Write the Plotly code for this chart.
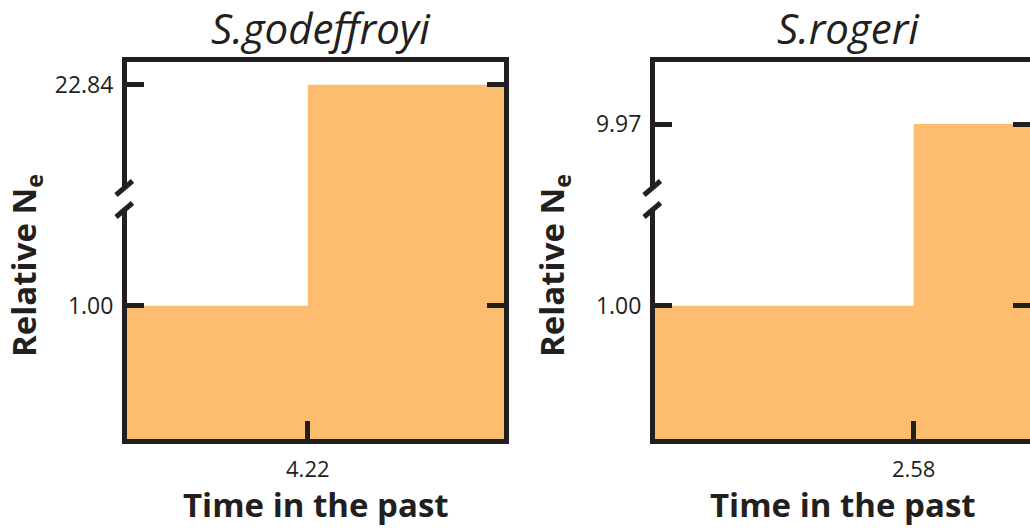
import plotly.graph_objects as go

# Two-epoch effective population size histories (relative to present Ne)
species = ["S.godeffroyi", "S.rogeri"]
change_time = [4.22, 2.58]          # time of the size change
ne_recent = [1.00, 1.00]            # relative Ne after the change (present)
ne_ancient = [22.84, 9.97]          # relative Ne before the change (past)

# axis extents for each panel
time_max = [8.8, 3.74]
lower_range = [0.0, 1.8]
upper_range = [[18.0, 23.8], [8.0, 11.6]]

W, H = 1030, 529
INK = "#231f20"
FILL = "#fcbe6e"
FONT = "Open Sans"
LW = 5


def fx(p):
    return p / W


def fy(p):
    return 1 - p / H


# pixel frame of each panel's plot area
panel_left = [127, 655]
panel_right = [504, 1030]
top_px, split_px, bottom_px = 62, 199, 439

fig = go.Figure()
layout = dict(
    width=W, height=H,
    margin=dict(l=0, r=0, t=0, b=0, autoexpand=False),
    paper_bgcolor="white", plot_bgcolor="white", showlegend=False,
    font=dict(family=FONT, color=INK),
)
shapes, annotations = [], []

for i in range(2):
    xl, xu = 2 * i + 1, 2 * i + 2
    xdom = [fx(panel_left[i]), fx(panel_right[i])]
    xs = [0, change_time[i], time_max[i]]
    ys = [ne_recent[i], ne_ancient[i], ne_ancient[i]]
    for k in (xl, xu):
        fig.add_trace(go.Scatter(
            x=xs, y=ys, mode="lines", line=dict(shape="hv", width=0, color=FILL),
            fill="tozeroy", fillcolor=FILL, hoverinfo="skip",
            xaxis=f"x{k}", yaxis=f"y{k}",
        ))

    common_y = dict(
        showline=True, linecolor=INK, linewidth=LW, mirror="ticks",
        ticks="inside", ticklen=17, tickwidth=LW, tickcolor=INK,
        showgrid=False, zeroline=False, fixedrange=True,
        tickfont=dict(size=23, color=INK, family=FONT), ticklabelstandoff=4,
    )
    # lower segment of the broken y axis
    layout[f"xaxis{xl}"] = dict(
        domain=xdom, anchor=f"y{xl}", range=[0, time_max[i]],
        showline=True, linecolor=INK, linewidth=LW, mirror=False,
        ticks="inside", ticklen=18, tickwidth=LW, tickcolor=INK,
        tickvals=[change_time[i]], ticktext=[f"{change_time[i]:.2f}"],
        tickfont=dict(size=22, color=INK, family=FONT), ticklabelstandoff=7,
        showgrid=False, zeroline=False, fixedrange=True,
    )
    layout[f"yaxis{xl}"] = dict(
        common_y, domain=[fy(bottom_px), fy(split_px)], anchor=f"x{xl}",
        range=lower_range, tickvals=[ne_recent[i]],
        ticktext=[f"{ne_recent[i]:.2f}"],
    )
    # upper segment of the broken y axis
    layout[f"xaxis{xu}"] = dict(
        domain=xdom, anchor=f"y{xu}", range=[0, time_max[i]], side="top",
        showline=True, linecolor=INK, linewidth=LW, mirror=False,
        ticks="", showticklabels=False, showgrid=False, zeroline=False,
        fixedrange=True, matches=f"x{xl}",
    )
    layout[f"yaxis{xu}"] = dict(
        common_y, domain=[fy(split_px), fy(top_px)], anchor=f"x{xu}",
        range=upper_range[i], tickvals=[ne_ancient[i]],
        ticktext=[f"{ne_ancient[i]:.2f}"],
    )

    # break in the y axis line with two slashes
    axis_x = panel_left[i] - LW / 2
    shapes.append(dict(type="rect", xref="paper", yref="paper",
                       x0=fx(axis_x - 6), x1=fx(axis_x + 3),
                       y0=fy(188), y1=fy(210),
                       fillcolor="white", line=dict(width=0), layer="above"))
    for y_low, y_high in ((195, 181), (217, 203)):
        shapes.append(dict(type="line", xref="paper", yref="paper",
                           x0=fx(axis_x - 8.5), y0=fy(y_low),
                           x1=fx(axis_x + 8), y1=fy(y_high),
                           line=dict(color=INK, width=LW), layer="above"))

    centre = (panel_left[i] + panel_right[i]) / 2 if i == 0 else 843
    annotations += [
        dict(text=species[i], x=fx(centre + 5), y=fy(27), xref="paper", yref="paper",
             showarrow=False, xanchor="center", yanchor="middle",
             font=dict(size=42, color=INK, family=FONT, style="italic")),
        dict(text="<b>Time in the past</b>", x=fx(centre), y=fy(504),
             xref="paper", yref="paper", showarrow=False,
             xanchor="center", yanchor="middle",
             font=dict(size=33, color=INK, family=FONT)),
        dict(text="<b>Relative N<sub>e</sub></b>", x=fx(panel_left[i] - 102),
             y=fy(266), xref="paper", yref="paper", showarrow=False,
             textangle=-90, xanchor="center", yanchor="middle",
             font=dict(size=33, color=INK, family=FONT)),
    ]

layout["shapes"] = shapes
layout["annotations"] = annotations
fig.update_layout(**layout)
fig.write_html("out.html", config={"displayModeBar": False})
